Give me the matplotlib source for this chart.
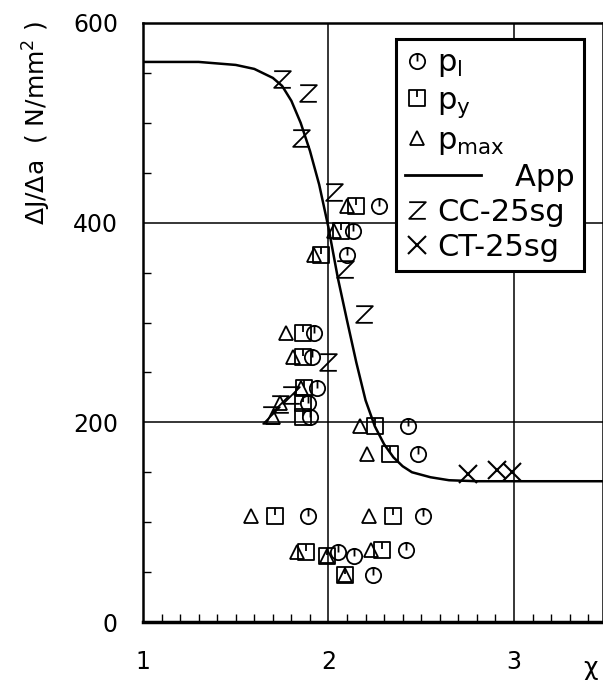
import numpy as np
import matplotlib
matplotlib.use('Agg')
import matplotlib.pyplot as plt
from matplotlib.path import Path
from matplotlib.lines import Line2D
from matplotlib.legend_handler import HandlerLine2D
from matplotlib.ticker import MultipleLocator


# data rows: one test each, chi for the three load definitions
dJda = [417, 392, 368, 289, 265, 234, 219, 205, 196, 168, 106, 106, 70, 66, 72, 47]
chi_pmax = [2.10, 2.03, 1.92, 1.77, 1.81, 1.85, 1.74, 1.70, 2.17, 2.21, 1.58, 2.22, 1.83, 1.99, 2.23, 2.09]
chi_py = [2.15, 2.07, 1.96, 1.86, 1.86, 1.87, 1.86, 1.86, 2.25, 2.33, 1.71, 2.35, 1.88, 1.99, 2.29, 2.09]
chi_pl = [2.27, 2.13, 2.10, 1.92, 1.91, 1.94, 1.89, 1.90, 2.43, 2.48, 1.89, 2.51, 2.05, 2.14, 2.42, 2.24]

# CC-25sg and CT-25sg specimens
chi_cc = [1.75, 1.89, 1.85, 2.03, 2.09, 2.19, 2.00, 1.80, 1.74, 1.69]
dJda_cc = [544, 530, 485, 431, 354, 309, 260, 227, 218, 207]
chi_ct = [2.75, 2.91, 2.99]
dJda_ct = [148, 152, 150]

# approximation curve
app_x = [1.00, 1.30, 1.50, 1.60, 1.70, 1.75, 1.80, 1.85, 1.90, 1.95, 2.00, 2.05,
         2.10, 2.15, 2.20, 2.25, 2.30, 2.35, 2.40, 2.45, 2.55, 2.65, 2.80, 3.50]
app_y = [561, 561, 558, 554, 545, 537, 522, 500, 472, 438, 395, 345,
         302, 260, 222, 196, 178, 165, 156, 150, 145, 142, 141, 141]


def circle_tick():
    c = Path.unit_circle()
    l = Path([(0, 1), (0, 0)], [Path.MOVETO, Path.LINETO])
    return Path.make_compound_path(c, l)


def square_tick():
    sq = Path([(-1, -1), (1, -1), (1, 1), (-1, 1), (-1, -1)],
              [Path.MOVETO, Path.LINETO, Path.LINETO, Path.LINETO, Path.CLOSEPOLY])
    l = Path([(0, 1), (0, 0.1)], [Path.MOVETO, Path.LINETO])
    return Path.make_compound_path(sq, l)


z_marker = Path([(-1, 1), (1, 1), (-1, -1), (1, -1)],
                [Path.MOVETO, Path.LINETO, Path.LINETO, Path.LINETO])


class LongLine(HandlerLine2D):
    def create_artists(self, legend, orig_handle, xdescent, ydescent, width, height, fontsize, trans):
        ln = Line2D([0, width * 3.3], [height / 2 - ydescent] * 2, color='k', lw=2)
        ln.set_transform(trans)
        return [ln]


plt.rcParams['font.family'] = ['DejaVu Sans']
fig = plt.figure(figsize=(6.03, 6.85), dpi=100)
ax = fig.add_axes([143 / 603, 63 / 685, 460 / 603, 599 / 685])

mk = dict(ls='none', mfc='none', mec='k', mew=1.3, color='k')
h_pl, = ax.plot(chi_pl, dJda, marker=circle_tick(), ms=11, **mk)
h_py, = ax.plot(chi_py, dJda, marker=square_tick(), ms=11, **mk)
h_pm, = ax.plot(chi_pmax, dJda, marker='^', ms=10, **mk)
h_app, = ax.plot(app_x, app_y, color='k', lw=1.8)
h_cc, = ax.plot(chi_cc, dJda_cc, marker=z_marker, ms=12, **mk)
h_ct, = ax.plot(chi_ct, dJda_ct, marker='x', ms=13, ls='none', color='k', mew=1.5)

ax.set_xlim(1, 3.48)
ax.set_ylim(0, 600)
ax.set_xticks([1, 2, 3])
ax.set_yticks([0, 200, 400, 600])
ax.xaxis.set_minor_locator(MultipleLocator(0.1))
ax.yaxis.set_minor_locator(MultipleLocator(50))
ax.tick_params(which='major', length=0, labelsize=17)
ax.tick_params(which='minor', direction='in', length=6, width=1)
ax.tick_params(axis='x', pad=20)
ax.tick_params(axis='y', pad=18)
ax.grid(True, which='major', color='k', lw=1.1)
for s in ax.spines.values():
    s.set_linewidth(1.8)
ax.spines['bottom'].set_linewidth(2.5)

fig.text(37 / 603, 1 - 123 / 685, r'ΔJ/Δa  ( N/mm$^{\mathregular{2}}$ )', rotation=90,
         ha='center', va='center', fontsize=18)
fig.text(590 / 603, 1 - 668 / 685, 'χ', ha='center', va='center', fontsize=18)

leg = ax.legend([h_pl, h_py, h_pm, h_app, h_cc, h_ct],
                [r'$\mathregular{p_l}$', r'$\mathregular{p_y}$', r'$\mathregular{p_{max}}$',
                 '        App', 'CC-25sg', 'CT-25sg'],
                handler_map={h_app: LongLine()},
                loc='upper right', bbox_to_anchor=(0.959, 0.973), borderaxespad=0,
                fontsize=22, handlelength=0.75, handletextpad=0.3, labelspacing=0.2,
                borderpad=0.3, fancybox=False, framealpha=1, edgecolor='k')
leg.get_frame().set_linewidth(2.2)

fig.savefig('out.png', dpi=100)
